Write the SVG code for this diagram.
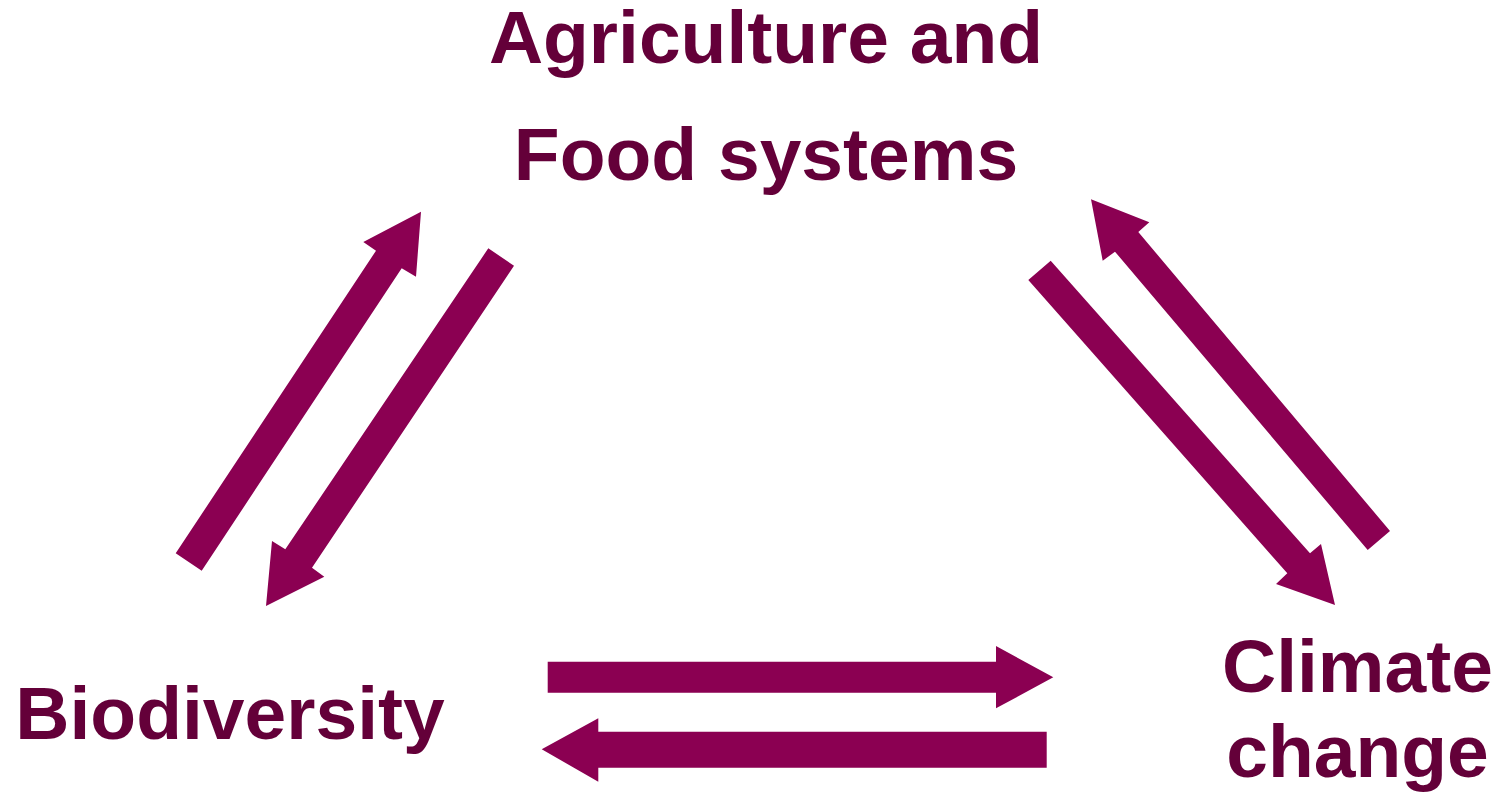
<svg xmlns="http://www.w3.org/2000/svg" width="1499" height="797" viewBox="0 0 1499 797">
<style>
.lbl{font-family:"Liberation Sans",Arial,sans-serif;font-weight:bold;font-size:75px;fill:#640039;text-anchor:middle}
.arr{fill:#8B0052;stroke:none}
</style>
<rect width="1499" height="797" fill="#ffffff"/>
<g id="node-agriculture">
<text class="lbl" x="766" y="63">Agriculture and</text>
<text class="lbl" x="766" y="179.5">Food systems</text>
</g>
<g id="node-biodiversity">
<text class="lbl" x="230" y="739">Biodiversity</text>
</g>
<g id="node-climate">
<text class="lbl" x="1357.5" y="691.5">Climate</text>
<text class="lbl" x="1357.5" y="776.5">change</text>
</g>
<g id="connectors">
<polygon class="arr" points="175.7,553.3 201.7,570.7 401.7,268.3 416,276.7 421,211.7 363.3,242 376,250.7"/>
<polygon class="arr" points="488.3,248.3 514,265.7 312,567.7 324.3,576.7 266,606 272,541 285.3,549.3"/>
<polygon class="arr" points="1028.3,280 1050.7,260.7 1310,553.3 1321,544 1335,605 1276,584 1287.3,573.3"/>
<polygon class="arr" points="1367.7,550 1390,531 1138.3,232 1149.3,222.3 1091,199.3 1102.7,260.7 1115,251.7"/>
<polygon class="arr" points="547.7,661.7 996,661.7 996,646 1053.3,677.3 996,708.3 996,692.7 547.7,692.7"/>
<polygon class="arr" points="1046.7,731.7 598.3,731.7 598.3,718.3 541.7,749.3 598.3,781.7 598.3,767.7 1046.7,767.7"/>
</g>
</svg>
